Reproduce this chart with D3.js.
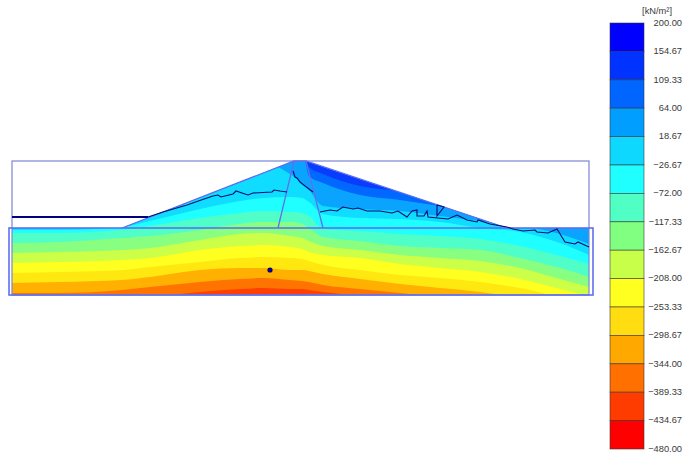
<!doctype html>
<html>
<head>
	<title>Stress contours</title>
	<script src="https://d3js.org/d3.v7.min.js"></script>
	<style>
		body { margin:0; background-color:white; }
		svg { display:block; }
		.tick text, .unit { font-family:'Liberation Sans'; font-size:9.3px; fill:#3a3a3a; }
	</style>
</head>
<body>
<script>

	// legend, kN/m2
	var legendValues = [200,154.67,109.33,64,18.67,-26.67,-72,-117.33,-162.67,-208,-253.33,-298.67,-344,-389.33,-434.67,-480]
	var legendColors = ["#0000ff","#0033ff","#0066ff","#009fff","#0fd8ff","#20ffff","#4fffc4","#80ff80","#c8ff48","#ffff20","#ffdd10","#ffa800","#ff7000","#ff3c00","#ff0000"]

	// the plot reads a little lighter than the legend
	var baseColor = "#0a3cff"
	var bandColors = ["#0068ff","#0aa4ff","#0fdcff","#20ffff","#50ffc8","#88ff80","#ccff48","#ffff20","#ffe810","#ffb000","#ff7400","#ff4000"]

	// section geometry: metres from the left edge, depth below the crest
	var sectionX = [0,0,110,282,294,495,577,577]
	var sectionD = [134,67,67,0,0,67,67,134]
	var coreLeftX = [282,266], coreLeftD = [0,67]
	var coreRightX = [294,311], coreRightD = [0,67]
	var waterX = [0,136], waterD = [56,56]
	var pointX = [258], pointD = [109]

	// contour stations and the depth of each contour at them
	var stations = [0,48,110,138,188,228,251,278,290,297,311,348,388,428,468,508,548,577]
	var contour1 = [-11,-11,-11,-11,-11,-11,-11,-11,-11,6,13,25,30,34,39,44,49,54]
	var contour2 = [-11,-11,-11,-11,-11,-11,-11,-11,-11,15,22,34,39,45,49,54,59,64]
	var contour3 = [-11,-11,-11,-11,-11,-11,-1,13,22,29,45,48,50,55,60,65,73,83]
	var contour4 = [69,69,66,60,48,40,37,36,37,41,53,57,58,61,67,71,82,94]
	var contour5 = [72,72,69,65,57,52,50,51,52,55,68,70,73,75,78,85,95,103]
	var contour6 = [82,81,77,75,69,63,61,61,63,67,76,80,85,87,89,97,107,116]
	var contour7 = [92,91,89,87,79,73,72,75,77,80,85,89,94,97,100,107,118,126]
	var contour8 = [102,101,99,97,89,85,84,86,88,91,94,97,103,107,111,118,128,135]
	var contour9 = [112,111,109,106,101,97,96,97,98,100,104,109,114,117,121,127,136,140]
	var contour10 = [122,121,119,116,109,107,107,109,109,110,113,118,123,127,131,137,144,149]
	var contour11 = [132,132,129,126,121,118,117,119,120,121,124,128,132,136,139,145,151,155]
	var contour12 = [139,139,138,136,131,128,127,128,128,129,131,135,139,143,147,151,157,161]
	var contours = [contour1,contour2,contour3,contour4,contour5,contour6,contour7,contour8,contour9,contour10,contour11,contour12]

	// seepage line
	var seepLeftX = [136,151,175,195,201,206,209,221,224,230,236,241,260,262,268,275]
	var seepLeftD = [56,51,44,37,35,34,36,33,30,32,34,32,31,29,30,31]
	var seepCoreX = [281,283,285,288,293,301]
	var seepCoreD = [10,16,17,21,25,31]
	var seepRightX = [308,318,325,331,341,346,355,368,380,386,395,400,405,405,412,415,416,436,445,455,465,466,478,495,501,511,523,525,536,545,553,563,566,577]
	var seepRightD = [51,49,50,46,48,47,50,50,52,50,56,50,49,55,55,50,56,58,54,59,61,59,63,66,68,70,69,71,72,68,81,83,81,86]
	var wedgeX = [425,425,432,425]
	var wedgeD = [44,55,46,44]

	var width = 685
	var height = 453

	var xScale = d3.scaleLinear().domain([0,577]).range([12,589])
	var yScale = d3.scaleLinear().domain([0,134]).range([161,295])
	var legendScale = d3.scaleLinear().domain([200,-480]).range([23,449])

	var canvas = d3.select("body")
				.append("svg")
				.attr("width",width)
				.attr("height",height);

	function pairs(xs,ds) { return xs.map(function(d,i){ return [d,ds[i]]; }); }

	var line = d3.line()
				.x(function(d){ return xScale(d[0]); })
				.y(function(d){ return yScale(d[1]); });

	canvas.append("clipPath")
		.attr("id","section")
		.append("path")
		.attr("d",line(pairs(sectionX,sectionD))+"Z");

	// bands, painted from the top down
	var fills = canvas.append("g").attr("clip-path","url(#section)");

	fills.append("rect")
		.attr("x",xScale(0))
		.attr("y",yScale(0))
		.attr("width",xScale(577)-xScale(0))
		.attr("height",yScale(134)-yScale(0))
		.attr("fill",baseColor);

	var area = d3.area()
				.x(function(d){ return xScale(d[0]); })
				.y0(yScale(170))
				.y1(function(d){ return yScale(d[1]); })
				.curve(d3.curveMonotoneX);

	fills.selectAll(".band")
		.data(contours)
		.enter()
			.append("path")
			.attr("class","band")
			.attr("d",function(d){ return area(pairs(stations,d)); })
			.attr("fill",function(d,i){ return bandColors[i]; });

	// outlines
	canvas.append("rect")
		.attr("x",xScale(0))
		.attr("y",yScale(0))
		.attr("width",xScale(577)-xScale(0))
		.attr("height",yScale(134)-yScale(0))
		.attr("fill","none")
		.attr("stroke","#7b86d6")
		.attr("stroke-width",1.2);

	var blue = "#5f70ee"

	var shapes = [
		pairs([110,282,294,495],[67,0,0,67]),
		pairs(coreLeftX,coreLeftD),
		pairs(coreRightX,coreRightD)
	]
	canvas.selectAll(".dam")
		.data(shapes)
		.enter()
			.append("path")
			.attr("class","dam")
			.attr("d",line)
			.attr("fill","none")
			.attr("stroke",blue)
			.attr("stroke-width",1.3);

	canvas.append("rect")
		.attr("x",xScale(-3))
		.attr("y",yScale(67))
		.attr("width",xScale(581)-xScale(-3))
		.attr("height",yScale(134)-yScale(67))
		.attr("fill","none")
		.attr("stroke",blue)
		.attr("stroke-width",1.6);

	// water and seepage
	canvas.append("path")
		.attr("d",line(pairs(waterX,waterD)))
		.attr("fill","none")
		.attr("stroke","#000080")
		.attr("stroke-width",2);

	var seep = [pairs(seepLeftX,seepLeftD),pairs(seepCoreX,seepCoreD),pairs(seepRightX,seepRightD),pairs(wedgeX,wedgeD)]
	canvas.selectAll(".seep")
		.data(seep)
		.enter()
			.append("path")
			.attr("class","seep")
			.attr("d",line)
			.attr("fill","none")
			.attr("stroke","#00106e")
			.attr("stroke-width",1.1);

	canvas.selectAll(".point")
		.data(pointX)
		.enter()
			.append("circle")
			.attr("class","point")
			.attr("cx",function(d){ return xScale(d); })
			.attr("cy",function(d,i){ return yScale(pointD[i]); })
			.attr("r",2.6)
			.attr("fill","#000080");

	// legend
	canvas.selectAll(".cell")
		.data(legendColors)
		.enter()
			.append("rect")
			.attr("class","cell")
			.attr("x",610)
			.attr("y",function(d,i){ return legendScale(legendValues[i]); })
			.attr("width",34)
			.attr("height",function(d,i){ return legendScale(legendValues[i+1])-legendScale(legendValues[i]); })
			.attr("fill",function(d){ return d; })
			.attr("stroke","#333")
			.attr("stroke-opacity",.7)
			.attr("stroke-width",.8);

	var axis = d3.axisRight(legendScale)
				.tickValues(legendValues)
				.tickSize(0)
				.tickPadding(0)
				.tickFormat(d3.format(".2f"));

	var axisG = canvas.append("g")
				.attr("transform","translate(682,-0.6)")
				.call(axis);
	axisG.select(".domain").remove();
	axisG.selectAll("text").attr("text-anchor","end").attr("font-family",null).attr("font-size",null);

	canvas.append("text")
		.attr("class","unit")
		.attr("x",672)
		.attr("y",14)
		.attr("text-anchor","end")
		.text("[kN/m²]");

</script>
</body>
</html>
